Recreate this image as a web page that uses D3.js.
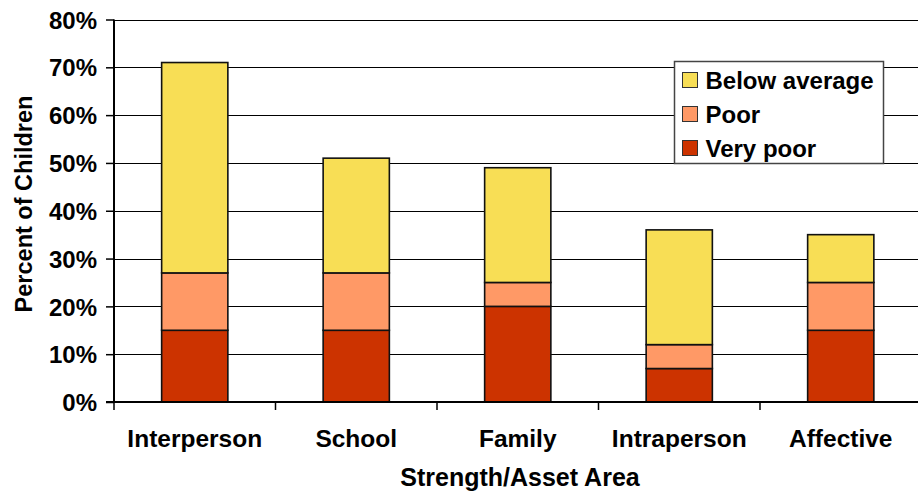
<!DOCTYPE html>
<html>
<head>
<meta charset="utf-8">
<script src="https://cdn.jsdelivr.net/npm/d3@7/dist/d3.min.js"></script>
<style>
  html, body { margin: 0; padding: 0; background: #fff; }
  svg { display: block; font-family: "Liberation Sans", Arial, sans-serif; font-weight: bold; }
</style>
</head>
<body>
<svg id="chart" width="918" height="491"></svg>
<script>
// Share of children in each strength/asset area, by rating level (percent)
const categories = ["Interperson", "School", "Family", "Intraperson", "Affective"];
const veryPoor     = [15, 15, 20, 7, 15];
const poor         = [12, 12, 5, 5, 10];
const belowAverage = [44, 24, 24, 24, 10];
const seriesNames  = ["Very poor", "Poor", "Below average"];
const seriesColors = ["#CC3300", "#FF9966", "#F8DE55"];
const yTicks = [0, 10, 20, 30, 40, 50, 60, 70, 80];

const svg = d3.select("#chart");
const margin = { left: 114, top: 19.5, bottom: 89, right: -3.5 };
const W = 918, H = 491;
const x0 = margin.left, x1 = W - margin.right;
const y0 = H - margin.bottom, y1 = margin.top;

const x = d3.scaleBand().domain(categories).range([x0, x1]).paddingInner(0.59).paddingOuter(0.295);
const xTickScale = d3.scaleBand().domain(categories).range([x0, x1]);
const y = d3.scaleLinear().domain([0, 80]).range([y0, y1]);

// gridlines
svg.append("g").selectAll("line").data(yTicks.filter(t => t > 0)).join("line")
  .attr("x1", x0).attr("x2", x1)
  .attr("y1", d => Math.round(y(d)) + 0.5).attr("y2", d => Math.round(y(d)) + 0.5)
  .attr("stroke", "#000").attr("stroke-width", 1.2);

// stacked bars
const rows = categories.map((c, i) => ({ cat: c, "Very poor": veryPoor[i], "Poor": poor[i], "Below average": belowAverage[i] }));
const stack = d3.stack().keys(seriesNames)(rows);
stack.forEach((layer, k) => {
  svg.append("g").selectAll("rect").data(layer).join("rect")
    .attr("x", d => x(d.data.cat))
    .attr("width", x.bandwidth())
    .attr("y", d => y(d[1]))
    .attr("height", d => y(d[0]) - y(d[1]))
    .attr("fill", seriesColors[k])
    .attr("stroke", "#111").attr("stroke-width", 1.6);
});

// y axis
const yAxis = svg.append("g").attr("transform", `translate(${x0},0)`)
  .call(d3.axisLeft(y).tickValues(yTicks).tickFormat(d => d + "%").tickSize(8).tickPadding(9));
yAxis.select(".domain").attr("stroke", "#000").attr("stroke-width", 2).attr("d", `M0,${y0}V${y1}`);
yAxis.selectAll(".tick line").attr("stroke", "#000").attr("stroke-width", 1.5);
yAxis.selectAll("text").attr("font-size", 24).attr("font-weight", "bold").attr("fill", "#000")
  .attr("font-family", "Liberation Sans, Arial, sans-serif").attr("dy", "0.36em");

// x axis
const xAxis = svg.append("g").attr("transform", `translate(0,${y0})`);
xAxis.append("line").attr("x1", x0 - 8).attr("x2", x1).attr("y1", 0).attr("y2", 0)
  .attr("stroke", "#000").attr("stroke-width", 2);
const xTicks = categories.map(c => xTickScale(c)).concat([x1]);
xAxis.selectAll("line.tk").data(xTicks).join("line").attr("class", "tk")
  .attr("x1", d => d).attr("x2", d => d).attr("y1", 0).attr("y2", 8)
  .attr("stroke", "#000").attr("stroke-width", 1.5);
xAxis.selectAll("text").data(categories).join("text")
  .attr("x", d => xTickScale(d) + xTickScale.bandwidth() / 2)
  .attr("y", 45)
  .attr("text-anchor", "middle").attr("font-size", 24.5).attr("fill", "#000")
  .text(d => d);

// axis titles
svg.append("text").attr("x", 520).attr("y", 485.5)
  .attr("text-anchor", "middle").attr("font-size", 25).text("Strength/Asset Area");
svg.append("text").attr("transform", `translate(31.5,204) rotate(-90)`)
  .attr("text-anchor", "middle").attr("font-size", 23.5).text("Percent of Children");

// legend
const lg = svg.append("g").attr("transform", "translate(674.5,61.5)");
lg.append("rect").attr("width", 209).attr("height", 102).attr("fill", "#fff")
  .attr("stroke", "#444").attr("stroke-width", 1.5);
const legendOrder = [2, 1, 0];
legendOrder.forEach((k, i) => {
  const g = lg.append("g").attr("transform", `translate(8,${11 + i * 34})`);
  g.append("rect").attr("width", 15).attr("height", 15)
    .attr("fill", seriesColors[k]).attr("stroke", "#333").attr("stroke-width", 1);
  g.append("text").attr("x", 23).attr("y", 7.5).attr("dy", "0.36em")
    .attr("font-size", 24).text(seriesNames[k]);
});
</script>
</body>
</html>
